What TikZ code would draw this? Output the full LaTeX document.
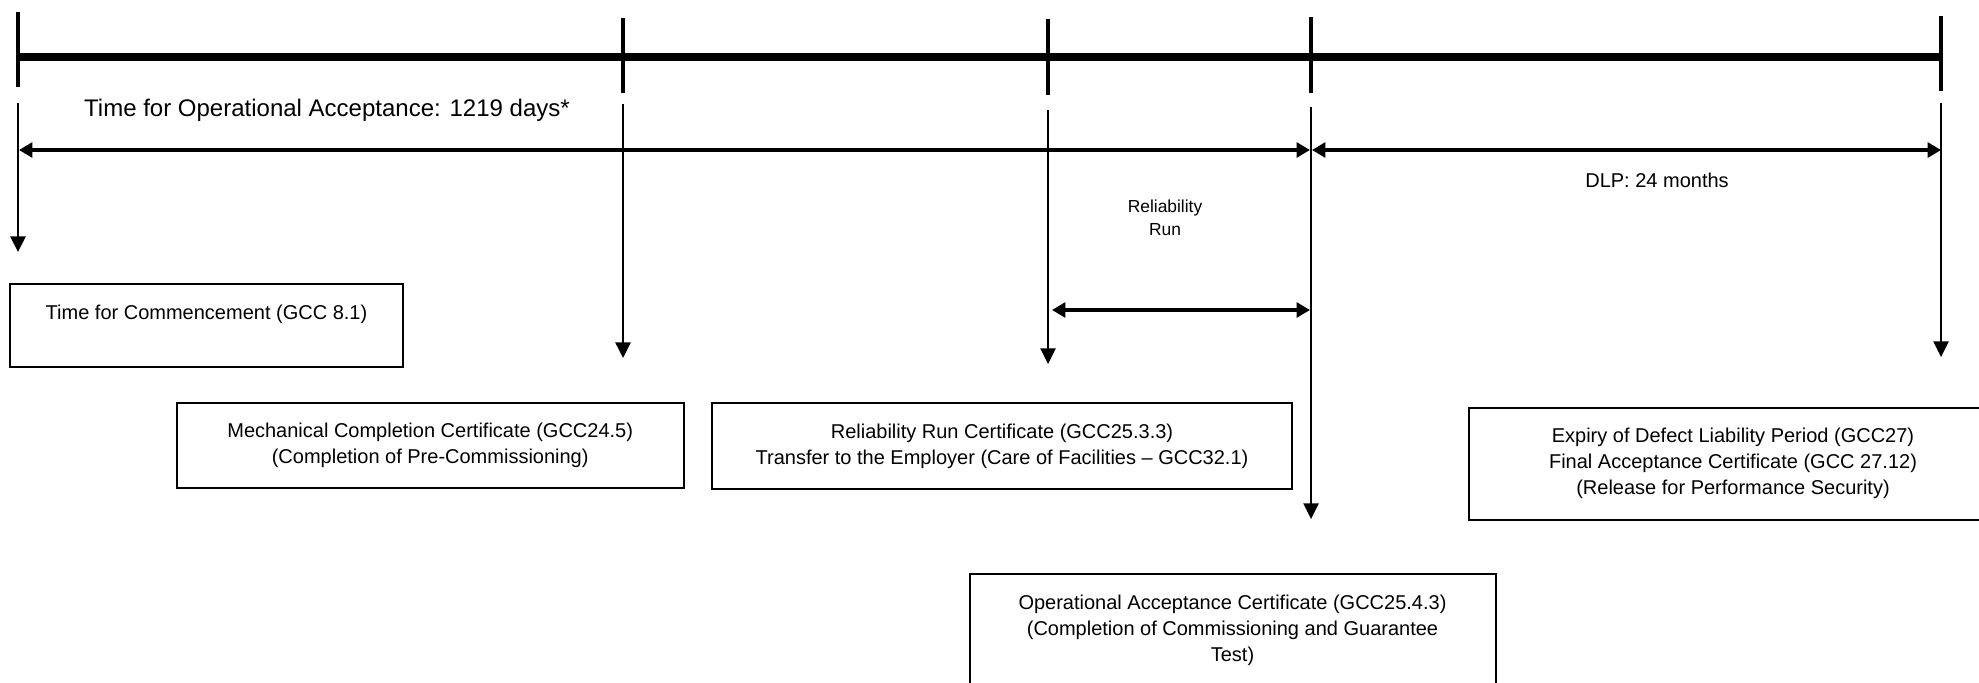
\documentclass[tikz,border=0pt]{standalone}
\usepackage{fontspec}
\setmainfont{Liberation Sans}
\usetikzlibrary{arrows.meta}
\usetikzlibrary{positioning}

\tikzset{
  certbox/.style={draw, line width=1pt, align=center, anchor=north west, inner sep=0pt,
                  font=\fontsize{10}{13}\selectfont},
  tick/.style={line width=2.3pt},
  drop/.style={-{Triangle[length=7.8pt,width=7.6pt]}, line width=0.8pt},
  span/.style={{Triangle[length=6.7pt,width=7.4pt]}-{Triangle[length=6.7pt,width=7.4pt]}, line width=2.4pt},
}

\begin{document}
\begin{tikzpicture}[x=0.5pt,y=-0.5pt]
  \useasboundingbox (0,0) rectangle (1979,682);

  % time line with its milestones
  \coordinate (t1) at (18,57);
  \coordinate (t2) at (623,57);
  \coordinate (t3) at (1048,57);
  \coordinate (t4) at (1311,57);
  \coordinate (t5) at (1941,57);
  \draw[line width=4pt] (t1) -- (t5);
  \draw[tick] (18,12) -- (18,87);
  \draw[tick] (623,18) -- (623,93);
  \draw[tick] (1048,19) -- (1048,95);
  \draw[tick] (1311,17) -- (1311,93);
  \draw[tick] (1941,16) -- (1941,91);

  % drops from the milestones
  \coordinate (d1-top) at (18,103);   \coordinate (d1-end) at (18,252);
  \coordinate (d2-top) at (623,104);  \coordinate (d2-end) at (623,358);
  \coordinate (d3-top) at (1048,110); \coordinate (d3-end) at (1048,364);
  \coordinate (d4-top) at (1311,107); \coordinate (d4-end) at (1311,519);
  \coordinate (d5-top) at (1941,103); \coordinate (d5-end) at (1941,357);
  \draw[drop] (d1-top) -- (d1-end);
  \draw[drop] (d2-top) -- (d2-end);
  \draw[drop] (d3-top) -- (d3-end);
  \draw[drop] (d4-top) -- (d4-end);
  \draw[drop] (d5-top) -- (d5-end);

  % periods
  \coordinate (oa-start) at (19,150);
  \coordinate (oa-end) at (1310,150);
  \coordinate (dlp-start) at (1312,150);
  \coordinate (dlp-end) at (1941,150);
  \coordinate (rr-start) at (1052,310);
  \coordinate (rr-end) at (1310,310);
  \draw[span] (oa-start) -- (oa-end);
  \draw[span] (dlp-start) -- (dlp-end);
  \draw[span] (rr-start) -- (rr-end);

  \node at (327,110) (optime) {\fontsize{12}{14}\selectfont Time for Operational Acceptance: 1219 days*};
  \node at (1657,180) (dlp) {\fontsize{10}{12}\selectfont DLP: 24 months};
  \node[align=center, font=\fontsize{8.7}{11.7}\selectfont] at (1165,218) (relrun) {Reliability\\Run};

  % certificates
  \node[certbox, minimum width=196.5pt, minimum height=41.5pt] at (9,283) (commence)
    {Time for Commencement (GCC 8.1)\\ \mbox{}};
  \node[certbox, minimum width=253.7pt, minimum height=42.5pt] at (175.5,402.3) (mech)
    {Mechanical Completion Certificate (GCC24.5)\\(Completion of Pre-Commissioning)};
  \node[certbox, minimum width=290pt, minimum height=42.7pt] at (711,402.3) (relcert)
    {Reliability Run Certificate (GCC25.3.3)\\Transfer to the Employer (Care of Facilities -- GCC32.1)};
  \node[certbox, minimum width=264pt, minimum height=56pt] at (1468,406.7) (expiry)
    {Expiry of Defect Liability Period (GCC27)\\Final Acceptance Certificate (GCC 27.12)\\(Release for Performance Security)};
  \node[certbox, minimum width=263pt, minimum height=56.5pt] at (968.5,573.3) (opaccept)
    {Operational Acceptance Certificate (GCC25.4.3)\\(Completion of Commissioning and Guarantee\\Test)};
\end{tikzpicture}
\end{document}
